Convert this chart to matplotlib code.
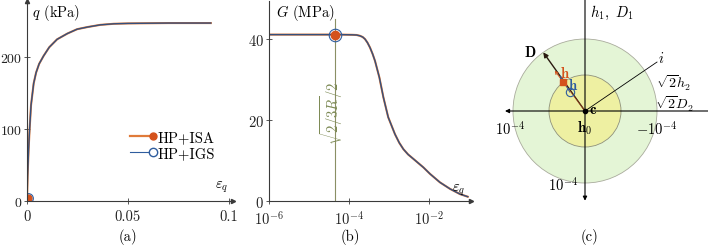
import matplotlib
matplotlib.use("Agg")
import matplotlib.pyplot as plt
from matplotlib.legend_handler import HandlerLine2D
from matplotlib.lines import Line2D
from matplotlib.patches import Circle
from matplotlib.ticker import NullLocator

plt.rcParams["font.family"] = "serif"
plt.rcParams["font.serif"] = ["cmr10"]
plt.rcParams["mathtext.fontset"] = "cm"
plt.rcParams["axes.unicode_minus"] = False
plt.rcParams["axes.formatter.use_mathtext"] = True

# (a) stress-strain
eps_a = [0, 0.0003, 0.0008, 0.0013, 0.002, 0.0033, 0.0045, 0.0060, 0.0082, 0.011,
         0.0149, 0.02, 0.0248, 0.030, 0.0363, 0.043, 0.05, 0.07, 0.091]
q_a = [0, 35, 72, 100, 133, 163, 178, 190, 201, 213,
       224, 232, 238, 241, 244, 245.5, 246, 246.5, 246.5]
start_a = (0.0005, 5)

# (b) shear modulus degradation
eps_b = [1e-6, 1e-5, 5.96e-5, 1.2e-4, 1.55e-4, 1.88e-4, 2.2e-4, 2.51e-4, 2.9e-4,
         3.35e-4, 3.9e-4, 4.47e-4, 5.75e-4, 7.24e-4, 9.55e-4, 1.41e-3, 1.8e-3,
         2.29e-3, 3.0e-3, 4.07e-3, 7.24e-3, 1.06e-2, 1.88e-2, 3.35e-2, 5.96e-2, 9.3e-2]
G_b = [41.1, 41.1, 41.1, 41.05, 41.0, 40.8, 40.5, 40.0, 39.1,
       37.9, 36.3, 34.6, 30.5, 25.6, 20.7, 16.5, 14.4,
       12.8, 11.5, 10.4, 8.3, 6.7, 4.6, 3.0, 1.7, 1.06]
eps_R = 4.5e-5
G_R = 41.1

# (c) schematic, units of 1e-4
r_inner = 0.5
r_outer = 1.0
D_dir = (0.58, -0.815)
i_dir = (-1.0, -0.68)
h_isa = (0.30, -0.40)
h_igs = (0.21, -0.26)

orange = "#e07b3a"
orange_dk = "#d4521c"
blue = "#2f5d9e"
curve_blue = "#35507e"
axc = "#3a3a3a"
fs = 10.5


class EndMarker(HandlerLine2D):
    def create_artists(self, legend, orig_handle, xdescent, ydescent, width,
                       height, fontsize, trans):
        arts = super().create_artists(legend, orig_handle, xdescent, ydescent,
                                      width, height, fontsize, trans)
        arts[0].set_markevery([2])
        return arts


def style_axes(ax):
    for s in ("top", "right"):
        ax.spines[s].set_visible(False)
    for s in ("left", "bottom"):
        ax.spines[s].set_color(axc)
        ax.spines[s].set_linewidth(0.8)
    ax.tick_params(direction="inout", length=4, width=0.6, color=axc,
                   labelsize=fs, labelcolor="#222222")
    ax.tick_params(axis="x", pad=4)
    ax.tick_params(axis="y", pad=1.5)
    ax.plot(1, 0, ">", color=axc, ms=3, transform=ax.get_yaxis_transform(), clip_on=False)
    ax.plot(0, 1, "^", color=axc, ms=3, transform=ax.get_xaxis_transform(), clip_on=False)


fig = plt.figure(figsize=(7.08, 2.51), dpi=100)
W, H = 708, 251

# ---- (a)
ax1 = fig.add_axes([27 / W, (H - 202.3) / H, 206 / W, 200.3 / H])
ax1.plot(eps_a, q_a, color=orange, lw=1.5)
ax1.plot(eps_a, q_a, color=curve_blue, lw=1.0)
ax1.plot(*start_a, "o", color=orange_dk, ms=5)
ax1.plot(*start_a, "o", mfc="none", mec=blue, mew=0.8, ms=7)
ax1.set_xlim(0, 0.102)
ax1.set_ylim(0, 277)
ax1.set_xticks([0, 0.05, 0.1])
ax1.set_xticklabels(["0", "0.05", "0.1"])
ax1.set_yticks([0, 100, 200])
style_axes(ax1)
ax1.tick_params(axis="y", labelsize=10)
ax1.text(0.0025, 262, r"$q$ (kPa)", fontsize=fs, va="center")
ax1.text(0.0965, 21, r"$\varepsilon_q$", fontsize=fs, ha="center", va="center")
h_isa_leg = Line2D([], [], color=orange, lw=1.6, marker="o", mfc=orange_dk,
                   mec=orange_dk, ms=5)
h_igs_leg = Line2D([], [], color=blue, lw=0.8, marker="o", mfc="white",
                   mec=blue, ms=6)
ax1.legend([h_isa_leg, h_igs_leg], ["HP+ISA", "HP+IGS"], loc="center left",
           bbox_to_anchor=(0.50, 0.279), frameon=False, fontsize=fs, numpoints=1,
           handlelength=1.6, handletextpad=0.3, labelspacing=0.2, borderpad=0,
           borderaxespad=0, handler_map={Line2D: EndMarker(numpoints=1)})

# ---- (b)
ax2 = fig.add_axes([269 / W, (H - 202) / H, 202 / W, 200 / H])
ax2.set_xscale("log")
ax2.plot([eps_R, eps_R], [0, 45], color="#8a8f64", lw=0.8)
ax2.plot(eps_b, G_b, color=orange, lw=1.5)
ax2.plot(eps_b, G_b, color=curve_blue, lw=1.0)
ax2.plot(eps_R, G_R, "o", color=orange_dk, ms=6)
ax2.plot(eps_R, G_R, "o", mfc="none", mec=blue, mew=0.8, ms=9)
ax2.set_xlim(1e-6, 10 ** -0.95)
ax2.set_ylim(0, 49.4)
ax2.set_xticks([1e-6, 1e-4, 1e-2])
ax2.xaxis.set_minor_locator(NullLocator())
ax2.set_yticks([0, 20, 40])
style_axes(ax2)
ax2.text(1.5e-6, 46.7, r"$G$ (MPa)", fontsize=fs, va="center")
ax2.text(0.055, 3.0, r"$\varepsilon_q$", fontsize=fs, ha="center", va="center")
ax2.text(eps_R * 0.80, 14, r"$\sqrt{2/3R}/2$", rotation=90, color="#7d8a55",
         fontsize=fs, ha="center", va="bottom")

# ---- (c)
ax3 = fig.add_axes([470 / W, (H - 210) / H, 238 / W, 210 / H])
ax3.set_xlim(115 / 72, -123 / 72)
ax3.set_ylim(98 / 72, -112 / 72)
ax3.axis("off")
ax3.add_patch(Circle((0, 0), r_outer, fc="#e4f5d6", ec="#a9ab9c", lw=0.6, zorder=1))
ax3.add_patch(Circle((0, 0), r_inner, fc="#eef0a2", ec="#8f917c", lw=0.6, zorder=2))
ax3.annotate("", xy=(80 / 72, 0), xytext=(-123 / 72, 0),
             arrowprops=dict(arrowstyle="-|>", color="black", lw=0.8,
                             mutation_scale=6, shrinkA=0, shrinkB=0), zorder=3)
ax3.annotate("", xy=(0, 89.7 / 72), xytext=(0, -112 / 72),
             arrowprops=dict(arrowstyle="-|>", color="black", lw=0.8,
                             mutation_scale=6, shrinkA=0, shrinkB=0), zorder=3)
ax3.plot([0, i_dir[0]], [0, i_dir[1]], color="black", lw=0.6, zorder=3)
ax3.annotate("", xy=D_dir, xytext=(0, 0),
             arrowprops=dict(arrowstyle="-|>", color="#2a1a10", lw=1.0,
                             mutation_scale=7, shrinkA=0, shrinkB=0), zorder=4)
ax3.plot([0, h_isa[0]], [0, h_isa[1]], color=orange_dk, lw=0.6, alpha=0.6, zorder=4)
ax3.annotate("", xy=(0.42, -0.56), xytext=h_isa,
             arrowprops=dict(arrowstyle="->", color=orange_dk, lw=0.7,
                             mutation_scale=5, shrinkA=0, shrinkB=0), zorder=5)
ax3.annotate("", xy=(0.35, -0.49), xytext=h_igs,
             arrowprops=dict(arrowstyle="->", color=blue, lw=0.6,
                             mutation_scale=5, shrinkA=0, shrinkB=0), zorder=5)
ax3.plot(*h_isa, "s", color=orange_dk, ms=4, zorder=6)
ax3.plot(*h_igs, "o", mfc="none", mec=blue, mew=0.8, ms=6, zorder=6)
ax3.plot(0, 0, "o", color="black", ms=3, zorder=6)
ax3.text(0.27, -0.54, r"$\mathbf{h}$", color=orange_dk, fontsize=fs, ha="center", va="center", zorder=7)
ax3.text(0.16, -0.37, r"$\mathbf{h}$", color=blue, fontsize=fs, ha="center", va="center", zorder=7)
ax3.text(0.76, -0.82, r"$\mathbf{D}$", fontsize=fs, ha="center", va="center")
ax3.text(-1.06, -0.75, r"$i$", fontsize=fs, ha="center", va="center")
ax3.text(-0.06, -0.02, r"$\mathbf{c}$", fontsize=fs, ha="left", va="center")
ax3.text(0, 0.22, r"$\mathbf{h}_0$", fontsize=fs, ha="center", va="center")
ax3.text(1.04, 0.23, r"$10^{-4}$", fontsize=fs, ha="center", va="center")
ax3.text(-1.0, 0.23, r"$-10^{-4}$", fontsize=fs, ha="center", va="center")
ax3.text(0.31, 1.01, r"$10^{-4}$", fontsize=fs, ha="center", va="center")
ax3.text(-0.07, -1.375, r"$h_1,\ D_1$", fontsize=fs, ha="left", va="center")
ax3.text(-1.236, -0.40, r"$\sqrt{2}h_2$", fontsize=10, ha="center", va="center")
ax3.text(-1.236, -0.11, r"$\sqrt{2}D_2$", fontsize=10, ha="center", va="center")

for x, lab in [(128, "(a)"), (350, "(b)"), (589, "(c)")]:
    fig.text(x / W, 1 - 237 / H, lab, fontsize=fs, ha="center", va="center")

fig.savefig("out.png", dpi=100)
